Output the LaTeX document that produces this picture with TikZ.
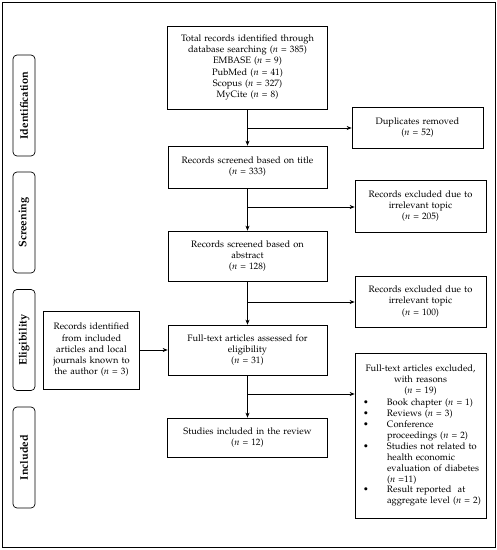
\documentclass[tikz,border=0pt]{standalone}
\usepackage[T1]{fontenc}
\usepackage{mathpazo}
\usetikzlibrary{arrows.meta}
\newcommand{\bitem}[1]{\par\noindent\makebox[28pt][l]{\hspace{4pt}\textbullet}\parbox[t]{96pt}{\raggedright #1}\par}
\newcommand{\nn}{\textit{n}}
\begin{document}
\begin{tikzpicture}[x=1pt,y=-1pt,
  font=\fontsize{9.3}{11.2}\selectfont,
  box/.style={draw, line width=0.7pt, align=center, inner sep=2pt},
  phase/.style={draw, line width=0.7pt, rounded corners=4pt, rotate=90, minimum width=101pt, minimum height=22pt, inner sep=0pt, font=\fontsize{11}{12}\selectfont\bfseries},
  arr/.style={line width=0.7pt, -{Stealth[length=5pt,width=4pt]}}]
\useasboundingbox (0,0) rectangle (497,550);
\draw[line width=0.8pt] (2,2) rectangle (495,547);
% phase labels
\node[phase] (pid) at (24,105.5) {Identification};
\node[phase] (psc) at (24,222.5) {Screening};
\node[phase] (pel) at (24,340) {Eligibility};
\node[phase] (pin) at (24,457.5) {Included};
% main column
\node[box, text width=154pt, minimum width=160pt, minimum height=83pt] (tot) at (247.5,67.5)
  {Total records identified through\\ database searching (\nn{} = 385)\\ EMBASE (\nn{} = 9)\\ PubMed (\nn{} = 41)\\ Scopus (\nn{} = 327)\\ MyCite (\nn{} = 8)};
\node[box, text width=154pt, minimum width=159pt, minimum height=42pt] (tit) at (247.5,167)
  {Records screened based on title\\ (\nn{} = 333)};
\node[box, text width=154pt, minimum width=159pt, minimum height=50pt] (abs) at (247.5,256)
  {Records screened based on\\ abstract\\ (\nn{} = 128)};
\node[box, text width=154pt, minimum width=159pt, minimum height=50pt] (ful) at (247.5,350)
  {Full-text articles assessed for\\ eligibility\\ (\nn{} = 31)};
\node[box, text width=154pt, minimum width=160pt, minimum height=39pt] (stu) at (247.5,437.5)
  {Studies included in the review\\ (\nn{} = 12)};
% left box
\node[box, text width=92pt, minimum width=95pt, minimum height=78pt] (oth) at (91.5,350)
  {Records identified\\ from included\\ articles and local\\ journals known to\\ the author (\nn{} = 3)};
% right boxes
\node[box, text width=126pt, minimum width=131pt, minimum height=41pt] (dup) at (417.5,127.5)
  {Duplicates removed\\ (\nn{} = 52)};
\node[box, text width=126pt, minimum width=131pt, minimum height=52pt] (ex1) at (420.5,206)
  {Records excluded due to\\ irrelevant topic\\ (\nn{} = 205)};
\node[box, text width=126pt, minimum width=131pt, minimum height=51pt] (ex2) at (420.5,301.5)
  {Records excluded due to\\ irrelevant topic\\ (\nn{} = 100)};
\node[draw, line width=0.7pt, inner sep=4pt, text width=123pt, minimum height=165pt] (ftx) at (420.5,435.5)
  {{\centering Full-text articles excluded,\\ with reasons\\ (\nn{} = 19)\par}
   \bitem{Book chapter (\nn{} = 1)}
   \bitem{Reviews (\nn{} = 3)}
   \bitem{Conference\\ proceedings (\nn{} = 2)}
   \bitem{Studies not related to\\ health economic\\ evaluation of diabetes\\ (\nn{} =11)}
   \bitem{Result reported\ \ at\\ aggregate level (\nn{} = 2)}};
% branch points
\coordinate (b1) at (247.5,128);
\coordinate (b2) at (247.5,207);
\coordinate (b3) at (247.5,302);
\coordinate (b4) at (247.5,394);
% vertical flow
\draw[arr] (tot.south) -- (tit.north);
\draw[arr] (tit.south) -- (abs.north);
\draw[arr] (abs.south) -- (ful.north);
\draw[arr] (ful.south) -- (stu.north);
% side arrows
\draw[arr] (b1) -- (b1 -| dup.west);
\draw[arr] (b2) -- (b2 -| ex1.west);
\draw[arr] (b3) -- (b3 -| ex2.west);
\draw[arr] (b4) -- (b4 -| ftx.west);
\draw[arr] (oth.east) -- (ful.west);
\end{tikzpicture}
\end{document}
